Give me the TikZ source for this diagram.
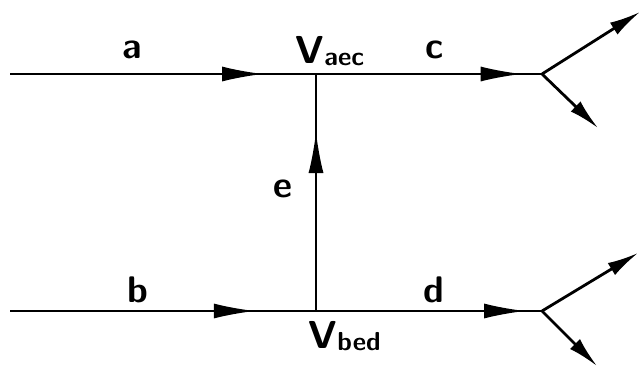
\documentclass[tikz,border=0pt]{standalone}
\usetikzlibrary{arrows.meta, decorations.markings}
\begin{document}
\begin{tikzpicture}[x=1pt, y=-1pt, line width=1.8pt,
    lbl/.style={font=\fontsize{37}{37}\sffamily\bfseries, inner sep=0pt},
    vlbl/.style={font=\fontsize{39}{39}\sffamily\bfseries, inner sep=0pt, anchor=base west},
    midarr/.style={postaction={decorate}, decoration={markings,
        mark=at position #1 with {\arrow{Latex[length=41pt, width=15pt]}}}},
    branch/.style={line width=2.8pt, -{Latex[length=31pt, width=14pt]}}]

    \useasboundingbox (0,0) rectangle (641,370);

    % vertices and free ends
    \coordinate (ain)   at (10,74);
    \coordinate (vaec)  at (316,74);
    \coordinate (jc)    at (542,74);
    \coordinate (cup)   at (640,12);
    \coordinate (cdown) at (598,128);
    \coordinate (bin)   at (10,311);
    \coordinate (vbed)  at (316,311);
    \coordinate (jd)    at (542,311);
    \coordinate (dup)   at (638,253);
    \coordinate (ddown) at (597,366);

    % lines
    \draw[midarr=0.827] (ain) -- (vaec);
    \draw[midarr=0.91]  (vaec) -- (jc);
    \draw[midarr=0.80]  (bin) -- (vbed);
    \draw[midarr=0.925] (vbed) -- (jd);
    \draw[midarr=0.755] (vbed) -- (vaec);

    % outgoing branches
    \draw[branch] (jc) -- (cup);
    \draw[branch] (jc) -- (cdown);
    \draw[branch] (jd) -- (dup);
    \draw[branch] (jd) -- (ddown);

    % labels
    \node[lbl, anchor=base] (la) at (132,58)  {a};
    \node[lbl, anchor=base] (lc) at (435,58)  {c};
    \node[lbl, anchor=base] (lb) at (138,302) {b};
    \node[lbl, anchor=base] (ld) at (434,302) {d};
    \node[lbl, anchor=base] (le) at (283,197) {e};
    \node[vlbl] (laec) at (295,63)
      {V\raisebox{-2pt}{\fontsize{26}{26}\selectfont aec}};
    \node[vlbl] (lbed) at (308,348)
      {V\raisebox{-2pt}{\fontsize{26}{26}\selectfont bed}};

\end{tikzpicture}
\end{document}
